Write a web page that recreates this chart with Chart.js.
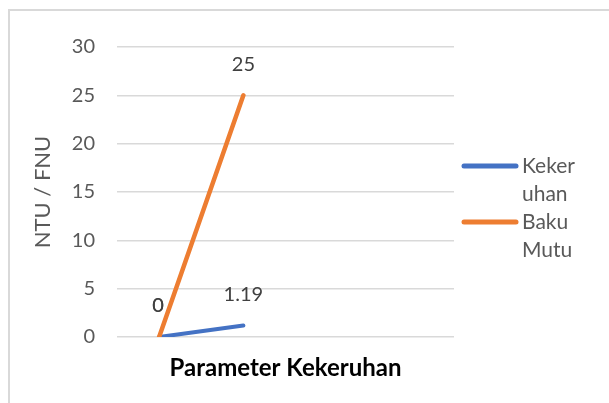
<!DOCTYPE html>
<html>
<head>
<meta charset="utf-8">
<script src="https://cdn.jsdelivr.net/npm/chart.js@4"></script>
<style>
  html, body { margin: 0; padding: 0; background: #fff; }
  #wrap { position: relative; width: 609px; height: 403px; overflow: hidden; }
  #frame { position: absolute; left: 8px; top: 9px; width: 620px; height: 420px; border: 2px solid #d9d9d9; }
  canvas { position: absolute; left: 0; top: 0; }
</style>
</head>
<body>
<div id="wrap">
  <div id="frame"></div>
  <canvas id="chart" width="609" height="403"></canvas>
</div>
<script>
// --- données ---
const categories = ['1', '2', '3', '4'];
const kekeruhan = [0, 1.19, null, null];
const bakuMutu = [0, 25, null, null];
const seriesNames = ['Kekeruhan', 'Baku Mutu'];
const seriesColors = ['#4472C4', '#ED7D31'];
const yTicks = [0, 5, 10, 15, 20, 25, 30];

const FONT = 'Lato, "Liberation Sans", sans-serif';

// étiquettes de valeur au-dessus de chaque point
const valueLabels = {
    id: 'valueLabels',
    afterDatasetsDraw(chart) {
        const ctx = chart.ctx;
        ctx.save();
        ctx.font = '20px ' + FONT;
        ctx.fillStyle = '#404040';
        ctx.textAlign = 'center';
        ctx.textBaseline = 'middle';
        chart.data.datasets.forEach((ds, i) => {
            const meta = chart.getDatasetMeta(i);
            meta.data.forEach((pt, j) => {
                const v = ds.data[j];
                if (v === null || v === undefined) return;
                ctx.fillText(String(v), pt.x - (j === 0 ? 1 : 0), pt.y - 31);
            });
        });
        ctx.restore();
    }
};

// légende à droite, texte coupé sur plusieurs lignes comme dans Excel
function wrapText(ctx, text, maxWidth) {
    const lines = [];
    let line = '';
    for (const ch of text) {
        const test = line + ch;
        if (ctx.measureText(test.trimEnd()).width > maxWidth && line.length) {
            if (ch === ' ') { lines.push(line); line = ''; continue; }
            const sp = line.lastIndexOf(' ');
            if (sp > 0) { lines.push(line.slice(0, sp)); line = line.slice(sp + 1) + ch; }
            else { lines.push(line); line = ch; }
        } else {
            line = test;
        }
    }
    if (line) lines.push(line);
    return lines;
}

const sideLegend = {
    id: 'sideLegend',
    afterDraw(chart) {
        const ctx = chart.ctx;
        const area = chart.chartArea;
        const mid = (area.top + area.bottom) / 2;
        const lineH = 28.5;
        ctx.save();
        ctx.font = '21px ' + FONT;
        ctx.textBaseline = 'middle';
        ctx.textAlign = 'left';
        chart.data.datasets.forEach((ds, i) => {
            const y = mid - 26 + i * 56;
            ctx.strokeStyle = ds.borderColor;
            ctx.lineWidth = 5;
            ctx.lineCap = 'round';
            ctx.beginPath();
            ctx.moveTo(464, y);
            ctx.lineTo(516, y);
            ctx.stroke();
            ctx.fillStyle = '#595959';
            wrapText(ctx, ds.label, 58).forEach((t, k) => {
                ctx.fillText(t, 522, y + k * lineH);
            });
        });
        ctx.restore();
    }
};

new Chart(document.getElementById('chart'), {
    type: 'line',
    data: {
        labels: categories,
        datasets: [
            {
                label: seriesNames[0],
                data: kekeruhan,
                borderColor: seriesColors[0],
                backgroundColor: seriesColors[0],
                borderWidth: 4,
                borderCapStyle: 'round',
                pointRadius: 0,
                order: 1
            },
            {
                label: seriesNames[1],
                data: bakuMutu,
                borderColor: seriesColors[1],
                backgroundColor: seriesColors[1],
                borderWidth: 4.5,
                borderCapStyle: 'round',
                pointRadius: 0,
                order: 0
            }
        ]
    },
    options: {
        responsive: false,
        animation: false,
        layout: { padding: { left: 30, right: 155, top: 47, bottom: 20 } },
        plugins: { legend: { display: false }, tooltip: { enabled: false } },
        scales: {
            x: {
                offset: true,
                grid: { display: false, drawTicks: false },
                border: { display: false },
                ticks: { display: false },
                title: {
                    display: true,
                    text: 'Parameter Kekeruhan',
                    color: '#000',
                    font: { family: FONT, size: 24, weight: 'bold' },
                    padding: { top: 16, bottom: 0 }
                },
                afterFit(scale) { scale.height = 403 - 337 - 20; }
            },
            y: {
                min: 0,
                max: 30,
                afterBuildTicks(scale) { scale.ticks = yTicks.map(v => ({ value: v })); },
                grid: { color: '#d9d9d9', lineWidth: 1.5, drawTicks: false },
                border: { display: false },
                ticks: {
                    color: '#595959',
                    padding: 22,
                    font: { family: FONT, size: 20 }
                },
                title: {
                    display: true,
                    text: 'NTU / FNU',
                    color: '#595959',
                    font: { family: FONT, size: 22 },
                    padding: { top: 0, bottom: 0 }
                },
                afterFit(scale) { scale.width = 117 - 30; }
            }
        }
    },
    plugins: [valueLabels, sideLegend]
});
</script>
</body>
</html>
